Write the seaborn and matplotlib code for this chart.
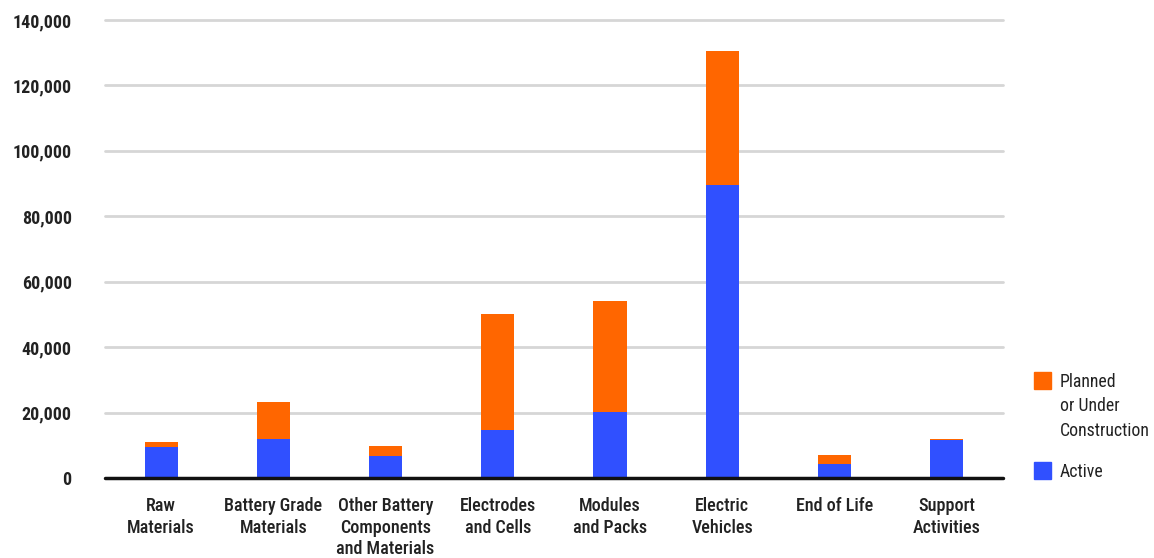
import matplotlib
matplotlib.use("Agg")
import matplotlib.pyplot as plt
import matplotlib.patches as mpatches
from matplotlib import font_manager as fm
from matplotlib.ticker import FuncFormatter
import seaborn as sns
import pandas as pd

# values (jobs per supply-chain segment)
categories = [
    "Raw\nMaterials",
    "Battery Grade\nMaterials",
    "Other Battery\nComponents\nand Materials",
    "Electrodes\nand Cells",
    "Modules\nand Packs",
    "Electric\nVehicles",
    "End of Life",
    "Support\nActivities",
]
active = [9500, 11900, 6800, 14700, 20200, 89600, 4300, 11600]
planned = [1500, 11300, 3000, 35400, 33900, 40900, 2700, 300]
legend_labels = ["Planned\nor Under\nConstruction", "Active"]

ORANGE = "#FF6600"
BLUE = "#3050FF"
TEXT = "#222222"

sns.set_theme(style="white")

# the reference uses a narrow grotesque; take a condensed face if one exists
names = {f.name for f in fm.fontManager.ttflist}
stretch = "normal"
if "Roboto Condensed" in names:
    family = "Roboto Condensed"
elif "Liberation Sans Narrow" in names:
    family = "Liberation Sans Narrow"
elif any("DejaVuSansCondensed" in f.fname for f in fm.fontManager.ttflist):
    family, stretch = "DejaVu Sans", "condensed"
else:
    family = "Roboto"
plt.rcParams["font.family"] = [family, "DejaVu Sans"]
plt.rcParams["font.stretch"] = stretch

df = pd.DataFrame({"segment": categories, "active": active, "planned": planned})
df["total"] = df["active"] + df["planned"]

fig = plt.figure(figsize=(11.54, 5.58), dpi=100)
ax = fig.add_axes([0.091, 0.1434, 0.778, 0.8208])

sns.barplot(data=df, x="segment", y="total", color=ORANGE, width=0.295,
            saturation=1, linewidth=0, ax=ax, zorder=3)
sns.barplot(data=df, x="segment", y="active", color=BLUE, width=0.295,
            saturation=1, linewidth=0, ax=ax, zorder=4)

ax.set_xlim(-0.5, 7.5)
ax.set_ylim(0, 140000)
ax.set_yticks(range(0, 140001, 20000))
ax.yaxis.set_major_formatter(FuncFormatter(lambda v, p: f"{int(v):,}"))
ax.grid(axis="y", color="#d6d6d6", linewidth=2, zorder=0)
ax.grid(axis="x", visible=False)
for g in ax.get_ygridlines():
    g.set_clip_on(False)
for s in ax.spines.values():
    s.set_visible(False)
ax.axhline(0, color="#111111", linewidth=2.5, zorder=5, clip_on=False)

ax.set_xlabel("")
ax.set_ylabel("")
ax.tick_params(axis="y", length=0, pad=24, labelsize=13, labelcolor=TEXT)
ax.tick_params(axis="x", length=0, pad=14, labelsize=13, labelcolor=TEXT)
for t in ax.get_yticklabels():
    t.set_fontweight("bold")
for t in ax.get_xticklabels():
    t.set_linespacing(1.25)
    t.set_fontweight("medium")

# legend: squares aligned with the first line of each label
W, H = 1154, 558
for (y_top, lab, col) in [(372, legend_labels[0], ORANGE), (462, legend_labels[1], BLUE)]:
    fig.patches.append(mpatches.Rectangle((1034 / W, 1 - (y_top + 17) / H), 17 / W, 17 / H,
                                          transform=fig.transFigure, color=col))
    fig.text(1060 / W, 1 - (y_top + 1) / H, lab, ha="left", va="top",
             fontsize=12.8, color=TEXT, linespacing=1.45)

fig.savefig("out.png", dpi=100)
